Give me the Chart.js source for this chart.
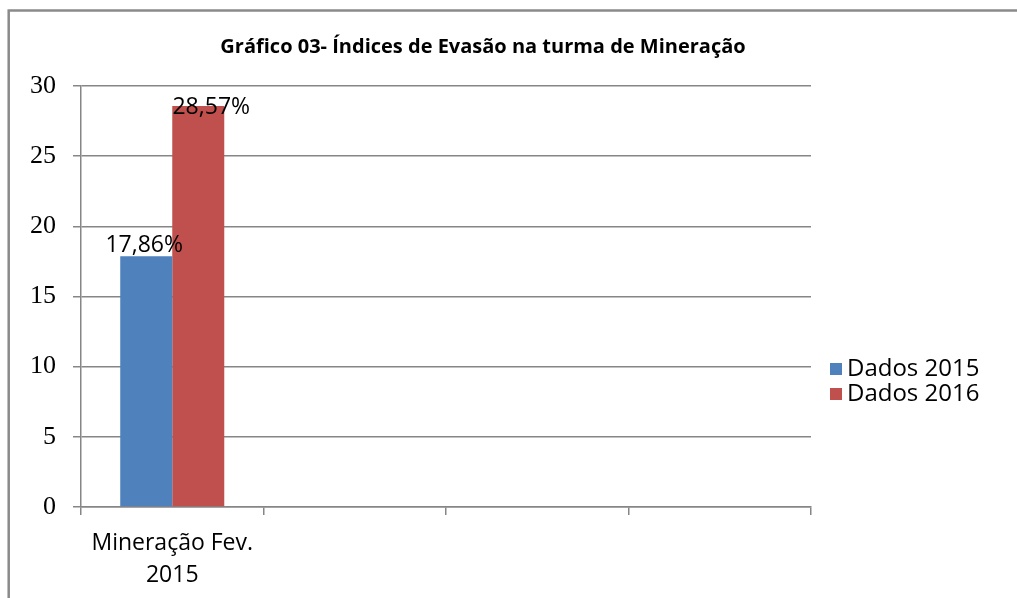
<!DOCTYPE html>
<html>
<head>
<meta charset="utf-8">
<script src="https://cdn.jsdelivr.net/npm/chart.js@4.4.1/dist/chart.umd.min.js"></script>
<style>
  html, body { margin: 0; padding: 0; background: #fff; }
  #wrap { width: 1017px; height: 598px; }
</style>
</head>
<body>
<div id="wrap"><canvas id="chart"></canvas></div>
<script>
// dados
const chartTitle = 'Gráfico 03- Índices de Evasão na turma de Mineração';
const categories = [['Mineração Fev.', '2015'], '', '', ''];
const seriesNames = ['Dados 2015', 'Dados 2016'];
const dados2015 = [17.86, null, null, null];
const dados2016 = [28.57, null, null, null];
const yTicks = [0, 5, 10, 15, 20, 25, 30];

const colors = ['#4F81BD', '#C0504D'];
const gridColor = '#868686';
const sans = "'Open Sans', sans-serif";

// moldura cinza em volta do gráfico
const framePlugin = {
  id: 'frame',
  beforeDraw(chart) {
    const ctx = chart.ctx;
    ctx.save();
    ctx.fillStyle = '#fff';
    ctx.fillRect(0, 0, chart.width, chart.height);
    ctx.strokeStyle = '#8a8a8a';
    ctx.lineWidth = 2.5;
    ctx.strokeRect(8.7, 10.5, chart.width + 20, chart.height + 20);
    ctx.restore();
  }
};

// rótulos de valor (17,86% / 28,57%)
const labelOffsets = [{ dx: -2, dy: -4 }, { dx: 13, dy: 8 }];
const barLabelPlugin = {
  id: 'barLabels',
  afterDatasetsDraw(chart) {
    const ctx = chart.ctx;
    ctx.save();
    ctx.font = '23px ' + sans;
    ctx.fillStyle = '#000';
    ctx.textAlign = 'center';
    ctx.textBaseline = 'alphabetic';
    chart.data.datasets.forEach((ds, i) => {
      chart.getDatasetMeta(i).data.forEach((bar, j) => {
        const v = ds.data[j];
        if (v == null) return;
        const txt = v.toFixed(2).replace('.', ',') + '%';
        ctx.fillText(txt, bar.x + labelOffsets[i].dx, bar.y + labelOffsets[i].dy);
      });
    });
    ctx.restore();
  }
};

// legenda à direita
const legendPlugin = {
  id: 'sideLegend',
  afterDraw(chart) {
    const ctx = chart.ctx;
    ctx.save();
    ctx.font = '24px ' + sans;
    ctx.textBaseline = 'middle';
    chart.data.datasets.forEach((ds, i) => {
      const y = 369 + i * 25;
      ctx.fillStyle = ds.backgroundColor;
      ctx.fillRect(830, y - 6, 12, 12);
      ctx.fillStyle = '#000';
      ctx.fillText(ds.label, 847, y);
    });
    ctx.restore();
  }
};

new Chart(document.getElementById('chart'), {
  type: 'bar',
  data: {
    labels: categories,
    datasets: [
      { label: seriesNames[0], data: dados2015, backgroundColor: colors[0] },
      { label: seriesNames[1], data: dados2016, backgroundColor: colors[1] }
    ]
  },
  options: {
    responsive: true,
    maintainAspectRatio: false,
    animation: false,
    layout: { padding: { top: 10, left: 10, right: 61, bottom: 8 } },
    datasets: { bar: { categoryPercentage: 0.57, barPercentage: 1 } },
    plugins: {
      legend: { display: false },
      tooltip: { enabled: false },
      title: {
        display: true,
        text: chartTitle,
        color: '#000',
        font: { family: sans, size: 20, weight: 'bold' },
        padding: { top: 25, bottom: 27 }
      }
    },
    scales: {
      x: {
        offset: true,
        grid: { offset: true, drawOnChartArea: false, drawTicks: true, tickLength: 8, color: gridColor, lineWidth: 1.5 },
        border: { display: true, color: gridColor, width: 1.5 },
        ticks: { color: '#000', font: { family: sans, size: 23, lineHeight: 1.4 }, padding: 12, maxRotation: 0, autoSkip: false },
        afterFit(s) { s.height = 83; }
      },
      y: {
        min: 0,
        max: 30,
        afterBuildTicks(s) { s.ticks = yTicks.map(v => ({ value: v })); },
        grid: { color: gridColor, lineWidth: 1.5, tickLength: 8 },
        border: { display: true, color: gridColor, width: 1.5 },
        ticks: { color: '#000', font: { family: "'Liberation Serif', serif", size: 26 }, padding: 17 },
        afterFit(s) { s.width = 71; }
      },
      // reserva o espaço da legenda
      reserve: {
        position: 'right',
        grid: { display: false },
        border: { display: false },
        ticks: { display: false },
        afterFit(s) { s.width = 145; }
      }
    }
  },
  plugins: [framePlugin, barLabelPlugin, legendPlugin]
});
</script>
</body>
</html>
